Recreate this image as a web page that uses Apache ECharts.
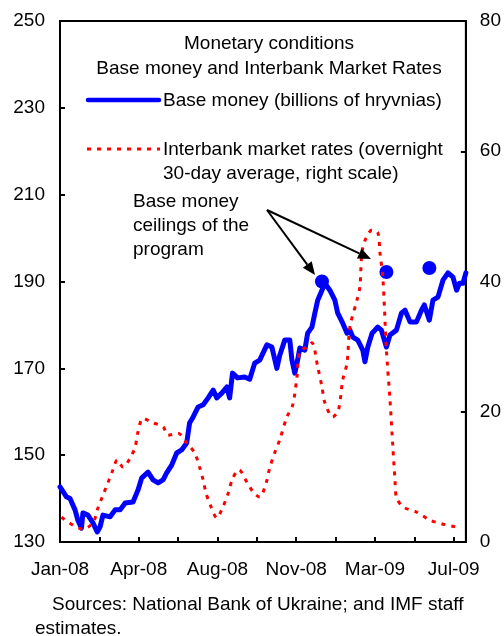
<!DOCTYPE html>
<html>
<head>
<meta charset="utf-8">
<script src="https://cdn.jsdelivr.net/npm/echarts@6/dist/echarts.min.js"></script>
<style>
html, body { margin: 0; padding: 0; background: #fff; }
#chart { width: 504px; height: 636px; }
</style>
</head>
<body>
<div id="chart"></div>
<script>
// x values are days counted from 1 Jan 2008, one tick every 55 days
const tickLabels = ['Jan-08', '', 'Apr-08', '', 'Aug-08', '', 'Nov-08', '', 'Mar-09', '', 'Jul-09'];

const baseMoneyDays = [0, 2, 9, 14, 21, 25, 30, 32, 39, 46, 52, 56, 60, 70, 77, 84, 91, 102, 109, 114,
  123, 130, 137, 144, 149, 156, 163, 170, 177, 181, 186, 193, 200, 207, 214, 219, 226, 233, 237, 241,
  248, 258, 265, 272, 279, 289, 296, 303, 307, 314, 321, 324, 328, 332, 335, 342, 346, 352, 356, 360,
  366, 370, 377, 384, 388, 395, 401, 405, 409, 416, 423, 426, 430, 436, 444, 449, 456, 461, 470, 477,
  482, 489, 498, 505, 509, 516, 521, 528, 535, 542, 549, 554, 558, 563, 567];
const baseMoney = [142.7, 143, 140.4, 140, 137.4, 135, 133.2, 136.7, 136.2, 134.4, 132.3, 133.5, 136.2, 135.8, 137.4, 137.4, 139, 139.2, 142, 144.7,
  146.1, 144.3, 143.6, 144.3, 145.9, 147.7, 150.5, 151.2, 152.8, 157.4, 158.8, 161.1, 161.6, 163.2, 165, 163.2, 164.3, 165.7, 163.2, 168.9,
  167.8, 168, 167.5, 171.2, 171.9, 175.4, 174.9, 170, 173, 176.5, 176.5, 171.9, 168.9, 171.9, 174.7, 174.2, 178.1, 179.5, 182.7, 185.7,
  188, 189.6, 188, 185.7, 182.7, 180.4, 178.1, 178.8, 177.2, 176.5, 174.2, 171.5, 174.9, 178.1, 179.5, 178.8, 174.9, 177.7, 178.8, 182.7,
  183.4, 180.7, 180.7, 183.4, 184.6, 181.1, 185.7, 186.4, 190.3, 192, 191, 188, 189.6, 189.6, 192];

const rateDays = [2, 18, 32, 46, 52, 59, 67, 74, 80, 88, 98, 105, 109, 116, 130, 144, 151, 165, 177, 188,
  195, 200, 204, 211, 219, 228, 235, 241, 250, 261, 271, 279, 288, 293, 300, 307, 317, 325, 331, 335,
  346, 352, 360, 366, 370, 381, 389, 395, 401, 405, 415, 419, 423, 436, 444, 447, 451, 456, 461, 465,
  468, 470, 479, 498, 516, 533, 554];
const rates = [3.8, 2.6, 2.0, 2.9, 4.9, 6.9, 9.1, 11.1, 12.6, 11.5, 12.9, 14.6, 16.9, 19, 18.3, 17.7, 16.4, 16.7, 15.2, 13.7,
  11.5, 9.5, 7.5, 5.4, 3.7, 5.5, 7.5, 9.7, 11.1, 9.2, 7.5, 6.9, 9.1, 11.4, 13.7, 15.7, 19.2, 21, 25.3, 29.2,
  30, 30.6, 26.9, 23.8, 21.4, 19.2, 20.3, 24.9, 27.5, 33, 37.2, 39.2, 45.2, 47.9, 47.5, 44.4, 40.7, 29.5, 21.8, 14.6,
  9.5, 6.9, 5.4, 4.6, 3.4, 2.8, 2.3];

const ceilingDays = [366, 456, 516];
const ceilings = [190, 192.2, 193.1];

const font = "'Liberation Sans', Arial, sans-serif";
const chart = echarts.init(document.getElementById('chart'));

function pairs(xs, ys) {
  return xs.map((x, i) => [x, ys[i]]);
}

// arrow from (x1,y1) to tip (x2,y2): shaft + filled head
function arrow(x1, y1, x2, y2) {
  const dx = x2 - x1, dy = y2 - y1;
  const len = Math.sqrt(dx * dx + dy * dy);
  const ux = dx / len, uy = dy / len;
  const bx = x2 - ux * 13, by = y2 - uy * 13;
  const px = -uy * 5.5, py = ux * 5.5;
  return [
    { type: 'line', shape: { x1: x1, y1: y1, x2: bx, y2: by }, style: { stroke: '#000', lineWidth: 2 }, z: 10 },
    { type: 'polygon', shape: { points: [[x2, y2], [bx + px, by + py], [bx - px, by - py]] }, style: { fill: '#000' }, z: 10 }
  ];
}

function text(x, y, t, align) {
  return {
    type: 'text', x: x, y: y, z: 10,
    style: { text: t, font: '19px ' + font, fill: '#000', textAlign: align || 'left', textVerticalAlign: 'middle' }
  };
}

const option = {
  animation: false,
  backgroundColor: '#fff',
  grid: { left: 60, right: 38, top: 21, bottom: 94, show: true, borderColor: '#000', borderWidth: 2, backgroundColor: 'transparent' },
  xAxis: {
    type: 'value', min: 0, max: 567, interval: 55,
    axisLine: { lineStyle: { color: '#000', width: 2 } },
    axisTick: { inside: true, length: 5, lineStyle: { color: '#000', width: 2 } },
    axisLabel: {
      color: '#000', fontSize: 19, fontFamily: font, margin: 18, showMaxLabel: false,
      formatter: function (v) {
        const i = v / 55;
        return Number.isInteger(i) ? (tickLabels[i] || '') : '';
      }
    },
    splitLine: { show: false }
  },
  yAxis: [
    {
      type: 'value', min: 130, max: 250, interval: 20, position: 'left',
      axisLine: { show: true, lineStyle: { color: '#000', width: 2 } },
      axisTick: { show: true, inside: true, length: 5, lineStyle: { color: '#000', width: 2 } },
      axisLabel: { color: '#000', fontSize: 19, fontFamily: font, margin: 15 },
      splitLine: { show: false }
    },
    {
      type: 'value', min: 0, max: 80, interval: 20, position: 'right',
      axisLine: { show: true, lineStyle: { color: '#000', width: 2 } },
      axisTick: { show: true, inside: true, length: 5, lineStyle: { color: '#000', width: 2 } },
      axisLabel: { color: '#000', fontSize: 19, fontFamily: font, margin: 14 },
      splitLine: { show: false }
    }
  ],
  series: [
    {
      name: 'Base money (billions of hryvnias)',
      type: 'line', yAxisIndex: 0, showSymbol: false, symbol: 'none',
      data: pairs(baseMoneyDays, baseMoney),
      lineStyle: { color: '#0000ff', width: 5, cap: 'round', join: 'round' }
    },
    {
      name: 'Interbank market rates',
      type: 'line', yAxisIndex: 1, showSymbol: false, symbol: 'none', smooth: 0.3,
      data: pairs(rateDays, rates),
      lineStyle: { color: '#ff0000', width: 3, type: [4, 6] }
    },
    {
      name: 'Base money ceilings',
      type: 'scatter', yAxisIndex: 0, symbol: 'circle', symbolSize: 14,
      data: pairs(ceilingDays, ceilings),
      itemStyle: { color: '#0000ff', opacity: 1 }
    }
  ],
  graphic: [
    text(269, 44, 'Monetary conditions', 'center'),
    text(269, 69, 'Base money and Interbank Market Rates', 'center'),
    { type: 'line', shape: { x1: 88, y1: 100, x2: 159, y2: 100 }, style: { stroke: '#0000ff', lineWidth: 4.5, lineCap: 'round' }, z: 10 },
    text(163, 101, 'Base money (billions of hryvnias)'),
    { type: 'line', shape: { x1: 87, y1: 149, x2: 160, y2: 149 }, style: { stroke: '#ff0000', lineWidth: 3, lineDash: [4, 6] }, z: 10 },
    text(163, 150, 'Interbank market rates (overnight'),
    text(163, 174, '30-day average, right scale)'),
    text(133, 202, 'Base money'),
    text(133, 226, 'ceilings of the'),
    text(133, 250, 'program'),
    ...arrow(267, 210, 315, 275),
    ...arrow(267, 210, 371, 259),
    text(52, 605, 'Sources: National Bank of Ukraine; and IMF staff'),
    text(35, 629, 'estimates.')
  ]
};

chart.setOption(option);
</script>
</body>
</html>
